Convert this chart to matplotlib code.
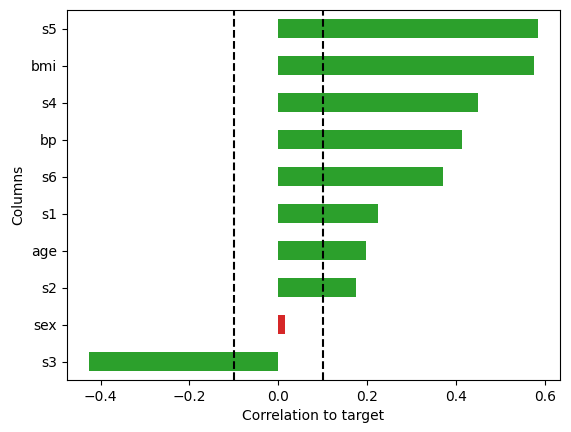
import numpy as np
import matplotlib
matplotlib.use("Agg")
import matplotlib.pyplot as plt

# correlation of each column to the target, sorted ascending
columns = ["s3", "sex", "s2", "age", "s1", "s6", "bp", "s4", "bmi", "s5"]
corr = [-0.425, 0.016, 0.175, 0.197, 0.224, 0.372, 0.414, 0.450, 0.575, 0.584]
threshold = 0.1

colors = ["tab:red" if abs(c) < threshold else "tab:green" for c in corr]

fig = plt.figure(figsize=(5.71, 4.32), dpi=100)
ax = fig.add_subplot(111)
fig.subplots_adjust(left=67/571, right=560/571, top=1-10/432, bottom=1-380/432)

y = np.arange(len(columns))
ax.barh(y, corr, height=0.5, color=colors)
ax.set_yticks(y)
ax.set_yticklabels(columns)
ax.set_ylim(-0.5, len(columns) - 0.5)

ax.axvline(-threshold, color="black", linestyle="--")
ax.axvline(threshold, color="black", linestyle="--")

ax.set_xlabel("Correlation to target")
ax.set_ylabel("Columns")

fig.savefig("out.png", dpi=100)
